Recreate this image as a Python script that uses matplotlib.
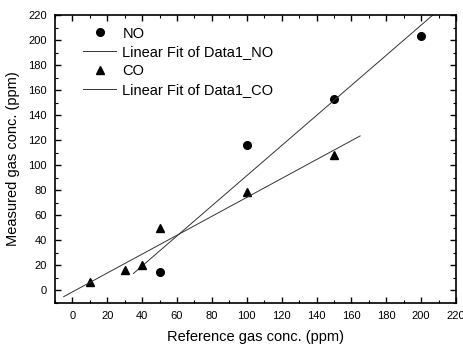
import numpy as np
import matplotlib.pyplot as plt
from matplotlib.ticker import MultipleLocator

plt.rcParams['font.family'] = ['Liberation Sans', 'DejaVu Sans']

# measured vs. reference concentrations
no_ref = [50, 100, 150, 200]
no_meas = [15, 116, 153, 203]
co_ref = [10, 30, 40, 50, 100, 150]
co_meas = [7, 16, 20, 50, 79, 108]

# fit line ranges
no_fit_range = [35, 215]
co_fit_range = [-5, 165]

no_k, no_b = np.polyfit(no_ref, no_meas, 1)
co_k, co_b = np.polyfit(co_ref, co_meas, 1)

fig = plt.figure(figsize=(4.64, 3.49), dpi=100)
ax = fig.add_axes([55/464, 1-303/349, (456-55)/464, (303-15)/349])

ax.plot(no_ref, no_meas, 'o', color='black', markersize=5.5, label='NO')
xs = np.array(no_fit_range)
ax.plot(xs, no_k*xs + no_b, '-', color='#333333', lw=0.7, label='Linear Fit of Data1_NO')
ax.plot(co_ref, co_meas, '^', color='black', markersize=5.5, label='CO')
xs = np.array(co_fit_range)
ax.plot(xs, co_k*xs + co_b, '-', color='#333333', lw=0.7, label='Linear Fit of Data1_CO')

ax.set_xlim(-10, 220)
ax.set_ylim(-10, 220)
ax.xaxis.set_major_locator(MultipleLocator(20))
ax.xaxis.set_minor_locator(MultipleLocator(10))
ax.yaxis.set_major_locator(MultipleLocator(20))
ax.yaxis.set_minor_locator(MultipleLocator(10))
ax.tick_params(which='both', direction='in', top=True, right=True, labelsize=8)
ax.tick_params(which='major', length=4, width=1, pad=6)
ax.tick_params(which='minor', length=2.5, width=0.8)
for s in ax.spines.values():
    s.set_linewidth(1.2)

ax.set_xlabel('Reference gas conc. (ppm)', fontsize=10.5, labelpad=6)
ax.set_ylabel('Measured gas conc. (ppm)', fontsize=10.5, labelpad=6)

ax.legend(loc='upper left', frameon=False, fontsize=10.5, handlelength=2.3,
          handletextpad=0.4, labelspacing=0.33, borderaxespad=0,
          bbox_to_anchor=(0.055, 0.98))

fig.savefig('out.png', dpi=100)
